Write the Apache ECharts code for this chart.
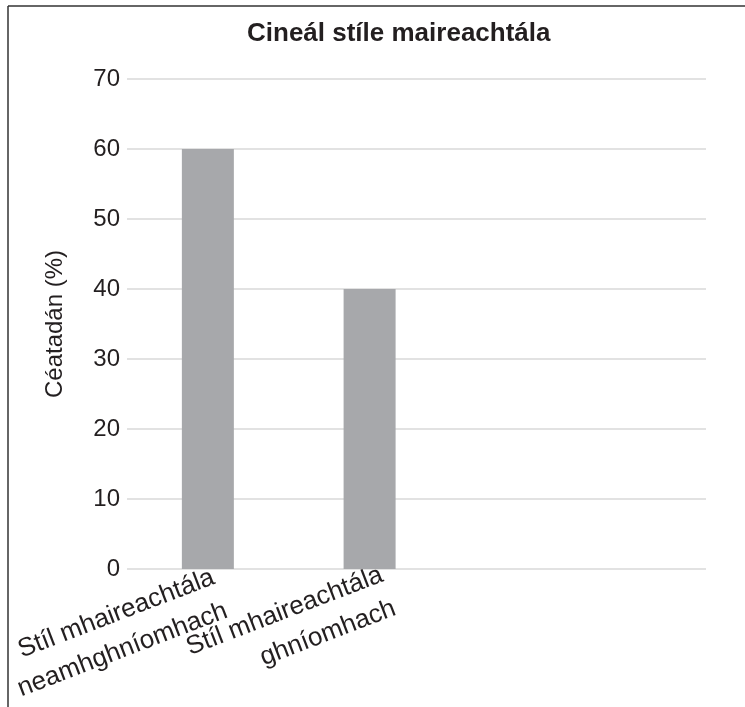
<!DOCTYPE html>
<html><head><meta charset="utf-8">
<script src="https://cdn.jsdelivr.net/npm/echarts@6/dist/echarts.min.js"></script>
<style>html,body{margin:0;padding:0;background:#fff}#c{width:745px;height:707px}</style>
</head><body><div id="c"></div>
<script>
const title = 'Cineál stíle maireachtála';
const yName = 'Céatadán (%)';
const categories = ['Stíl mhaireachtála\nneamhghníomhach', 'Stíl mhaireachtála\nghníomhach'];
const values = [60, 40];
const yTickLabels = ['0', '10', '20', '30', '40', '50', '60', '70'];

const catPos = categories.map((c, i) => i + 0.5);
const chart = echarts.init(document.getElementById('c'), null, {renderer: 'canvas'});
const font = 'Liberation Sans, Arial, Helvetica, sans-serif';
const labelStyle = {fontSize: 26, lineHeight: 36, color: '#231f20', fontFamily: font};
chart.setOption({
  animation: false,
  backgroundColor: '#fff',
  textStyle: {fontFamily: font},
  title: {
    text: title, left: 247, top: 21, padding: 0,
    textStyle: {fontFamily: font, fontSize: 26, fontWeight: 'bold', color: '#231f20'}
  },
  grid: {left: 127, right: 39, top: 79, bottom: 138, containLabel: false, outerBoundsMode: 'none'},
  xAxis: {
    type: 'value', min: 0, max: 3.58, interval: 0.5,
    splitLine: {show: false}, axisLine: {show: false}, axisTick: {show: false},
    axisLabel: {
      rotate: 21, fontSize: 26, color: '#231f20', fontFamily: font, lineHeight: 36, margin: 29,
      padding: [0, -20, 0, 0], hideOverlap: false,
      showMinLabel: true, showMaxLabel: false,
      rich: {
        a: Object.assign({padding: [0, 7, 0, 0]}, labelStyle),
        b: Object.assign({}, labelStyle)
      },
      formatter: v => {
        const i = catPos.findIndex(p => Math.abs(p - v) < 1e-6);
        if (i < 0) return '';
        const key = i === 0 ? 'a' : 'b';
        return categories[i].split('\n').map(l => '{' + key + '|' + l + '}').join('\n');
      }
    }
  },
  yAxis: {
    type: 'value', min: 0, max: 70, interval: 10,
    name: yName, nameLocation: 'middle', nameGap: 60,
    nameTextStyle: {fontSize: 24, color: '#231f20', fontFamily: font},
    axisLine: {show: false}, axisTick: {show: false},
    splitLine: {lineStyle: {color: '#d9d9d9', width: 1.5}},
    axisLabel: {fontSize: 24, color: '#231f20', fontFamily: font, margin: 7,
      formatter: v => yTickLabels[Math.round(v / 10)]}
  },
  series: [{
    type: 'bar', barWidth: 52,
    itemStyle: {color: '#a7a8ab'},
    data: values.map((v, i) => [catPos[i], v])
  }],
  graphic: [
    {type: 'line', silent: true, shape: {x1: 8, y1: 6, x2: 745, y2: 6}, style: {stroke: '#333', lineWidth: 1.5}},
    {type: 'line', silent: true, shape: {x1: 8, y1: 6, x2: 8, y2: 707}, style: {stroke: '#333', lineWidth: 1.5}}
  ]
});
</script></body></html>
